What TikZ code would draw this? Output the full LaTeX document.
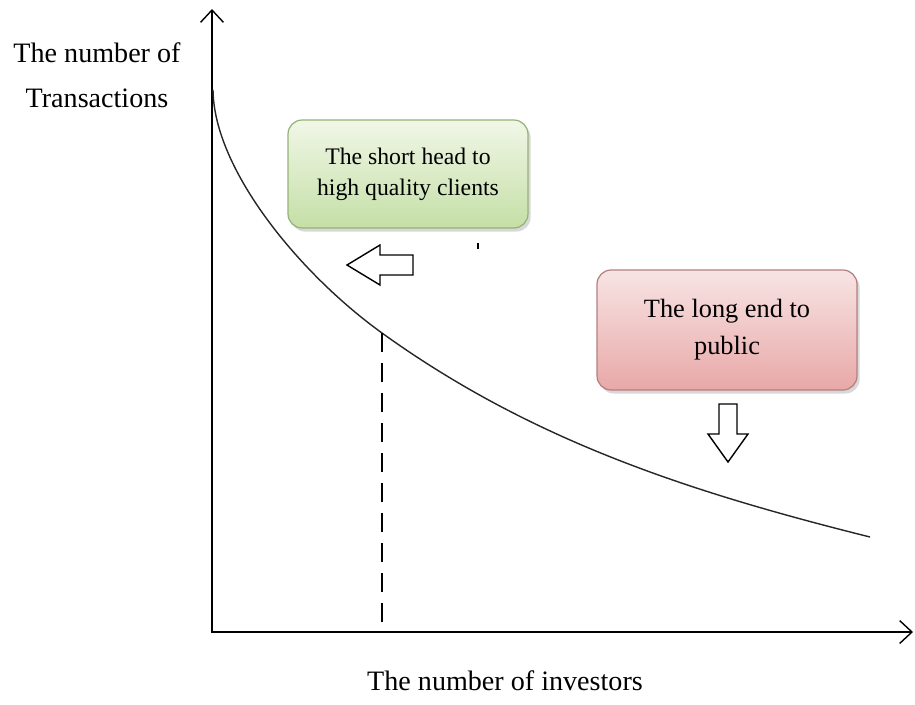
\documentclass[tikz,border=0pt]{standalone}
\usepackage{fontspec}
\setmainfont{Liberation Serif}
\usetikzlibrary{arrows.meta, shadows}
\definecolor{headtop}{RGB}{241,247,232}
\definecolor{headbot}{RGB}{196,223,166}
\definecolor{headline}{RGB}{150,178,120}
\definecolor{endtop}{RGB}{248,228,228}
\definecolor{endbot}{RGB}{233,168,168}
\definecolor{endline}{RGB}{180,128,128}
\tikzset{
  % axes and curve
  axisline/.style={-{Straight Barb[length=7pt, width=13pt, line width=0.8pt]}, black},
  tailcurve/.style={line width=0.8pt, black!85},
  % labelled boxes (parameterized by colour prefix)
  tailbox/.style={
    rectangle, rounded corners=8pt, align=center, draw=#1line, line width=0.7pt,
    top color=#1top, bottom color=#1bot,
    drop shadow={shadow xshift=1.5pt, shadow yshift=-2pt, fill=black!30}
  },
  hollowarrow/.style={draw=black, line width=0.8pt, fill=white},
  axislabel/.style={font=\fontsize{16}{25.5}\selectfont, align=center}
}
\begin{document}
\begin{tikzpicture}[x=0.02cm, y=-0.02cm]
  \useasboundingbox (0,0) rectangle (915,704);

  % Axes
  \draw[axisline, line width=1.7pt] (212,633) -- (212,9);
  \draw[axisline, line width=1.1pt] (211,632) -- (913,632);

  % Long tail curve
  \coordinate (split) at (382,333);
  \draw[tailcurve] (213,90) .. controls (214,170) and (300,274) .. (split)
    .. controls (532,441) and (690,492) .. (870,537);

  % Dashed split
  \draw[line width=1pt, dash pattern=on 0.38cm off 0.22cm] (split) -- (382,632);

  % Axis labels
  \node[axislabel] (ylabel) at (97,75) {The number of\\Transactions};
  \node[axislabel] (xlabel) at (505,681) {The number of investors};

  % Boxes
  \node[tailbox=head, minimum width=4.8cm, minimum height=2.16cm,
        font=\fontsize{13.5}{17.6}\selectfont] (headbox) at (408,174)
        {The short head to\\high quality clients};
  \node[tailbox=end, minimum width=5.2cm, minimum height=2.4cm,
        font=\fontsize{15}{21}\selectfont] (endbox) at (727,330)
        {The long end to\\public};

  % Hollow arrows
  \draw[hollowarrow] (347,265) -- (380,245) -- (380,255) -- (413,255)
    -- (413,275) -- (380,275) -- (380,285) -- cycle;
  \draw[hollowarrow] (719,404) -- (737,404) -- (737,434) -- (748,434)
    -- (728,462) -- (708,434) -- (719,434) -- cycle;

  % small mark under the green box
  \draw[line width=1.5pt] (478,243) -- (478,249);
\end{tikzpicture}
\end{document}
